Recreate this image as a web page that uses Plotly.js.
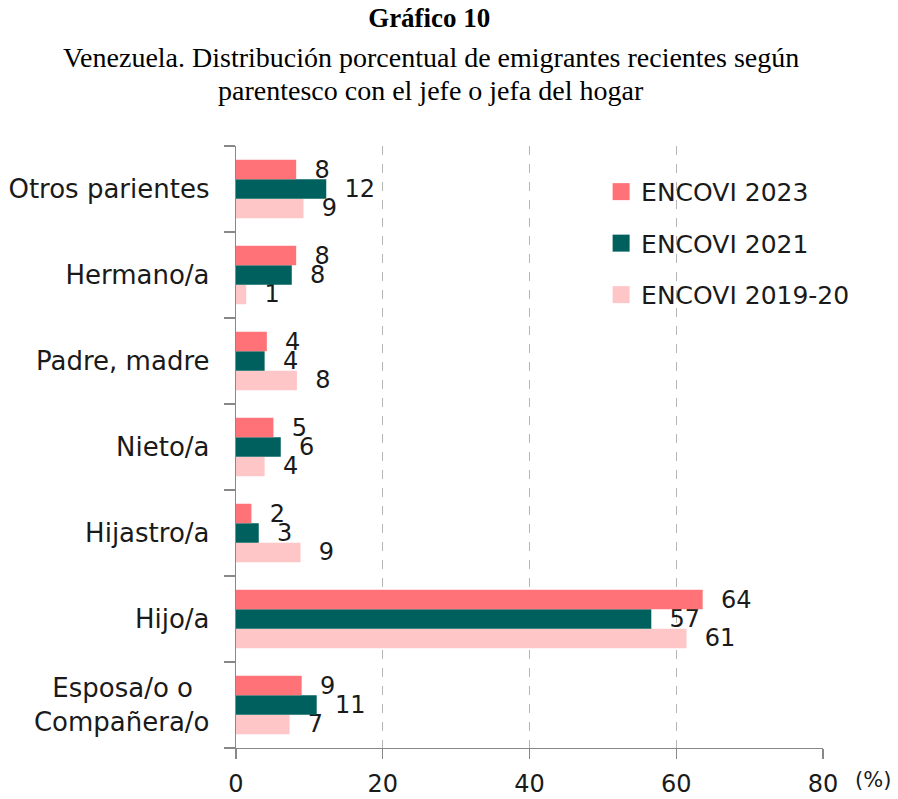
<!DOCTYPE html>
<html>
<head>
<meta charset="utf-8">
<script src="https://cdn.plot.ly/plotly-3.0.1.min.js"></script>
<style>html,body{margin:0;padding:0;background:#fff;}#chart{width:898px;height:799px;}</style>
</head>
<body>
<div id="chart"></div>
<script>
// Categories listed bottom to top
var categories = ['Esposa/o o\u00a0\u00a0<br>Compañera/o', 'Hijo/a', 'Hijastro/a', 'Nieto/a', 'Padre, madre', 'Hermano/a', 'Otros parientes'];
var seriesNames = ['ENCOVI 2019-20', 'ENCOVI 2021', 'ENCOVI 2023'];
var v2019 = [7.3, 61.4, 8.8, 3.9, 8.3, 1.4, 9.2];
var v2021 = [11.0, 56.6, 3.1, 6.1, 3.9, 7.6, 12.3];
var v2023 = [8.95, 63.6, 2.1, 5.1, 4.2, 8.2, 8.2];
var xTicks = [0, 20, 40, 60, 80];
var titleLines = ['Venezuela. Distribución porcentual de emigrantes recientes según', 'parentesco con el jefe o jefa del hogar'];

var colors = ['#FFC6C8', '#00605D', '#FF7378'];
var ranks = [3, 2, 1];
var sans = 'DejaVu Sans, Arial, sans-serif';
var serif = 'Liberation Serif, Times New Roman, serif';

var seriesValues = [v2019, v2021, v2023];
var traces = seriesValues.map(function (vals, i) {
  return {
    type: 'bar',
    orientation: 'h',
    name: seriesNames[i],
    legendgroup: 'g' + i,
    legendrank: ranks[i],
    x: vals,
    y: categories,
    marker: {color: colors[i], line: {width: 0}},
    texttemplate: '\u00a0\u00a0%{x:.0f}',
    textposition: 'outside',
    constraintext: 'none',
    cliponaxis: false,
    outsidetextfont: {family: sans, size: 24, color: '#1a1a1a'},
    hoverinfo: 'x+name'
  };
});

var layout = {
  width: 898,
  height: 799,
  margin: {l: 236, r: 75, t: 146, b: 51},
  paper_bgcolor: '#ffffff',
  plot_bgcolor: '#ffffff',
  barmode: 'group',
  bargap: 0.32,
  bargroupgap: 0,
  title: {
    text: '<b>Gráfico 10</b>',
    font: {family: serif, size: 27, color: '#000'},
    x: 0.478, xanchor: 'center', xref: 'container',
    y: 0.978, yanchor: 'middle', yref: 'container'
  },
  xaxis: {
    range: [0, 80],
    tickvals: xTicks,
    ticktext: xTicks.map(String),
    ticks: 'outside',
    ticklen: 10,
    tickcolor: '#888',
    tickwidth: 1.3,
    showline: true,
    linecolor: '#888',
    linewidth: 1.3,
    showgrid: true,
    gridcolor: '#b5b5b5',
    griddash: 'dash',
    gridwidth: 1,
    zeroline: false,
    tickfont: {family: sans, size: 24, color: '#1a1a1a'},
    ticklabelstandoff: 4,
    fixedrange: true
  },
  yaxis: {
    type: 'category',
    tickson: 'boundaries',
    ticks: 'outside',
    ticklen: 11,
    tickcolor: '#888',
    tickwidth: 1.3,
    showline: true,
    linecolor: '#888',
    linewidth: 1.3,
    showgrid: false,
    zeroline: false,
    tickfont: {family: sans, size: 26, color: '#1a1a1a'},
    ticklabelstandoff: 20,
    fixedrange: true
  },
  showlegend: true,
  legend: {
    x: 0.622, xanchor: 'left',
    y: 0.962, yanchor: 'top',
    traceorder: 'grouped',
    tracegroupgap: 16,
    font: {family: sans, size: 25, color: '#1a1a1a'},
    bgcolor: 'rgba(0,0,0,0)'
  },
  annotations: [
    {
      text: titleLines[0],
      xref: 'paper', yref: 'paper',
      x: 0.332, y: (748 - 57) / 602,
      xanchor: 'center', yanchor: 'middle',
      showarrow: false,
      font: {family: serif, size: 28, color: '#000'}
    },
    {
      text: titleLines[1],
      xref: 'paper', yref: 'paper',
      x: 0.332, y: (748 - 90) / 602,
      xanchor: 'center', yanchor: 'middle',
      showarrow: false,
      font: {family: serif, size: 28, color: '#000'}
    },
    {
      text: '(%)',
      xref: 'paper', yref: 'paper',
      x: 1, y: 0, xshift: 50, yshift: -32,
      xanchor: 'center', yanchor: 'middle',
      showarrow: false,
      font: {family: sans, size: 21, color: '#1a1a1a'}
    }
  ]
};

Plotly.newPlot('chart', traces, layout, {displayModeBar: false, staticPlot: true}).then(function (gd) {
  gd.querySelectorAll('.legendpoints path').forEach(function (p) {
    p.setAttribute('d', 'M8.5,8.5H-8.5V-8.5H8.5Z');
  });
});
</script>
</body>
</html>
